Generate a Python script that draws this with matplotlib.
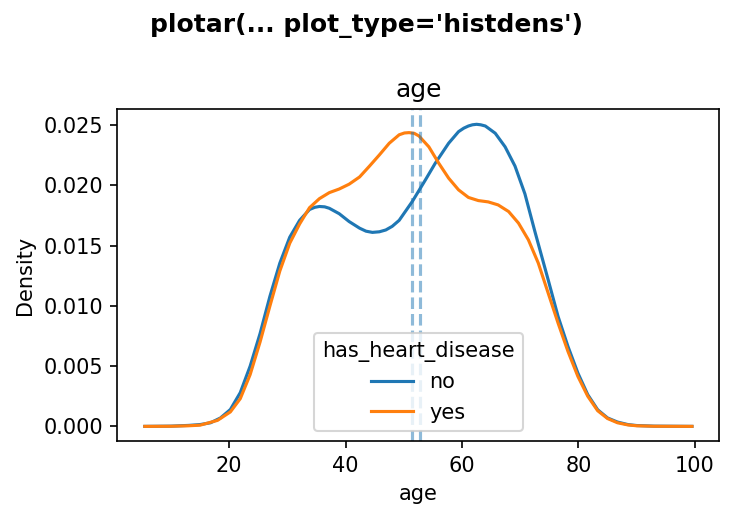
import matplotlib
matplotlib.use('Agg')
import matplotlib.pyplot as plt

# density curves
age_no = [5.5, 10, 13, 15, 16.8, 18.5, 20.2, 21.9, 23.6, 25.3, 27, 28.7, 30.4, 32.1,
          33.8, 34.7, 35.5, 36.4, 37.2, 38.9, 40.6, 42.4, 43.5, 44.6, 45.8, 46.9, 48,
          49.2, 51.45, 53.7, 55.4, 57.7, 59.4, 60.3, 61.1, 61.8, 62.5, 63.2, 64, 65.7,
          67.4, 69.1, 70.8, 72.5, 74.8, 76.5, 78.2, 79.9, 81.6, 83.3, 85, 86.7, 88.5,
          90, 93, 99.5]
dens_no = [0, 0.00002, 0.00008, 0.00015, 0.0003, 0.0007, 0.0014, 0.0028, 0.005, 0.0077,
           0.0108, 0.01355, 0.0157, 0.0171, 0.0180, 0.01818, 0.01825, 0.01822, 0.0181,
           0.01765, 0.0170, 0.01645, 0.0162, 0.0161, 0.01615, 0.0163, 0.0166, 0.0171,
           0.01866, 0.02045, 0.02184, 0.0235, 0.02446, 0.02475, 0.02493, 0.02503,
           0.02507, 0.02503, 0.02493, 0.02433, 0.0232, 0.0216, 0.0193, 0.0162, 0.01216,
           0.00912, 0.00663, 0.00443, 0.00263, 0.00138, 0.0007, 0.00036, 0.00015,
           0.00007, 0.00002, 0]

age_yes = [5.5, 10, 13, 15, 18, 20.2, 21.9, 23.6, 25.3, 27, 28.7, 30.4, 32.1, 33.8,
           35.5, 37.2, 38.9, 40.6, 42.4, 44.1, 45.8, 47.5, 49.2, 50.1, 50.9, 51.8,
           52.6, 54.3, 56, 57.7, 59.4, 61.1, 62.8, 64.5, 66.2, 68, 69.7, 71.4, 73.1,
           74.8, 76.5, 78.2, 79.9, 81.6, 83.3, 85, 86.7, 88.5, 90, 93, 99.5]
dens_yes = [0, 0.00001, 0.00005, 0.0001, 0.0005, 0.0012, 0.0023, 0.0043, 0.0070, 0.0100,
            0.0129, 0.0152, 0.0168, 0.01815, 0.0189, 0.0194, 0.0197, 0.0201, 0.0207,
            0.0216, 0.02253, 0.0235, 0.0242, 0.02435, 0.02438, 0.02432, 0.0241, 0.0232,
            0.02184, 0.0206, 0.01963, 0.0190, 0.01874, 0.01863, 0.01838, 0.01783,
            0.01687, 0.01548, 0.01355, 0.01106, 0.00857, 0.00622, 0.00415, 0.0025,
            0.0013, 0.00065, 0.0003, 0.00012, 0.00005, 0.00001, 0]

group_means = [51.45, 52.8]

fig = plt.figure(figsize=(734 / 150, 520 / 150), dpi=150)
ax = fig.add_axes([0.16, 0.151, 0.82, 0.639])

ax.plot(age_no, dens_no, color='#1f77b4', linewidth=1.5, label='no',
        solid_joinstyle='round')
ax.plot(age_yes, dens_yes, color='#ff7f0e', linewidth=1.5, label='yes',
        solid_joinstyle='round')
for m in group_means:
    ax.axvline(m, color='#1f77b4', alpha=0.5, linestyle='--', linewidth=1.5)

ax.set_title('age')
ax.set_xlabel('age')
ax.set_ylabel('Density')
ax.set_yticks([0, 0.005, 0.010, 0.015, 0.020, 0.025])
ax.set_yticklabels(['0.000', '0.005', '0.010', '0.015', '0.020', '0.025'])
ax.set_xticks([20, 40, 60, 80, 100])
ax.legend(title='has_heart_disease', loc='lower center')

fig.suptitle("plotar(... plot_type='histdens')", fontweight='bold', y=0.975)
fig.savefig('out.png', dpi=150)
